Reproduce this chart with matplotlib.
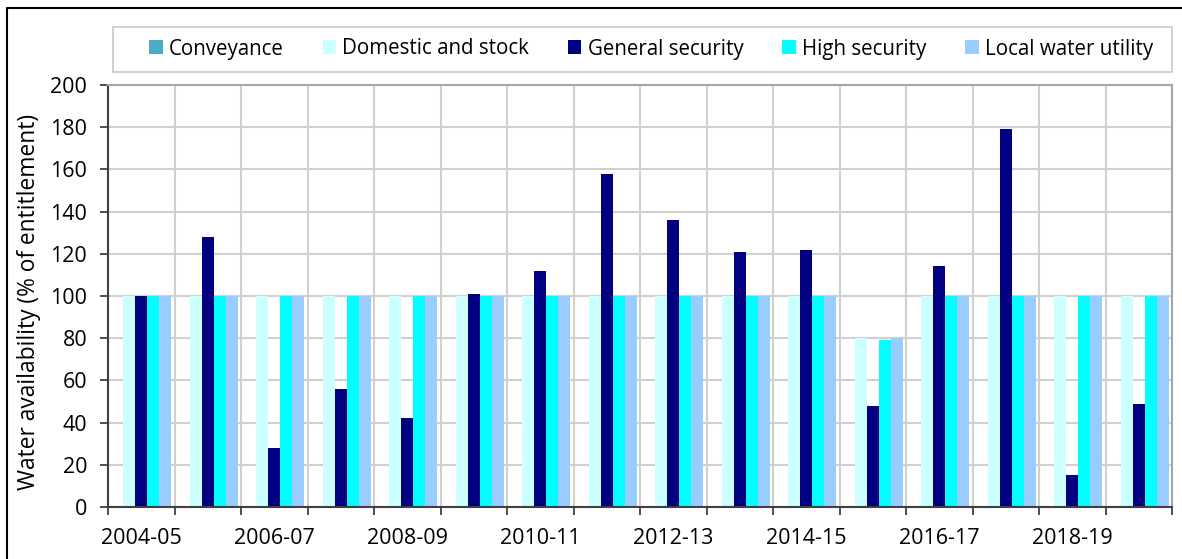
import matplotlib
matplotlib.use("Agg")
import matplotlib.pyplot as plt
import numpy as np
from matplotlib.lines import Line2D
from matplotlib.patches import Patch, Rectangle

plt.rcParams['font.family'] = ['Open Sans', 'DejaVu Sans']

years = ["2004-05", "2005-06", "2006-07", "2007-08", "2008-09", "2009-10", "2010-11", "2011-12",
         "2012-13", "2013-14", "2014-15", "2015-16", "2016-17", "2017-18", "2018-19", "2019-20"]
series_names = ["Conveyance", "Domestic and stock", "General security", "High security", "Local water utility"]
conveyance = [0, 0, 0, 0, 0, 0, 0, 0, 0, 0, 0, 0, 0, 0, 0, 0]
domestic = [100, 100, 100, 100, 100, 100, 100, 100, 100, 100, 100, 80, 100, 100, 100, 100]
general = [100, 128, 28, 56, 42, 101, 112, 158, 136, 121, 122, 48, 114, 179, 15, 49]
high = [100, 100, 100, 100, 100, 100, 100, 100, 100, 100, 100, 79, 100, 100, 100, 100]
local = [100, 100, 100, 100, 100, 100, 100, 100, 100, 100, 100, 80, 100, 100, 100, 100]
colors = ["#4BACC6", "#CCFFFF", "#000080", "#00FFFF", "#99CCFF"]

W, H = 1182, 559
fig = plt.figure(figsize=(W / 100, H / 100), dpi=100)
ax = fig.add_axes([108 / W, 1 - 507 / H, (1172 - 108) / W, (507 - 85) / H])

x = np.arange(len(years))
bw = 0.18
data = [conveyance, domestic, general, high, local]
for k, (vals, c) in enumerate(zip(data, colors)):
    v = np.array(vals, dtype=float)
    m = v > 0
    if m.any():
        ax.bar(x[m] + (k - 2) * bw, v[m], width=bw, color=c, linewidth=0, zorder=2)

ax.set_xlim(-0.5, len(years) - 0.5)
ax.set_ylim(0, 200)
ax.set_yticks(np.arange(0, 201, 20))
ax.set_xticks(x[::2])
ax.set_xticklabels(years[::2])
ax.set_xticks(np.arange(-0.5, len(years), 1.0), minor=True)

ax.grid(True, which='major', axis='y', color='#d0d0d0', linewidth=1.5, zorder=0)
ax.grid(True, which='minor', axis='x', color='#d0d0d0', linewidth=1.5, zorder=0)
ax.set_axisbelow(True)
ax.tick_params(axis='x', which='major', length=0, pad=15, labelsize=15.5, colors='#000000')
ax.tick_params(axis='x', which='minor', length=6, width=1.3, color='#404040')
ax.tick_params(axis='y', which='major', length=6, width=1.3, color='#404040', pad=9, labelsize=15.5)
for s in ['left', 'bottom']:
    ax.spines[s].set_color('#404040')
    ax.spines[s].set_linewidth(1.5)
for s in ['top', 'right']:
    ax.spines[s].set_color('#a6a6a6')
    ax.spines[s].set_linewidth(1.5)

ax.set_ylabel("Water availability (% of entitlement)", fontsize=16.4)
ax.yaxis.set_label_coords(41 / W, 1 - 302 / H, transform=fig.transFigure)

fig.add_artist(Rectangle((113 / W, 1 - 72 / H), (1172 - 113) / W, 45 / H,
                         transform=fig.transFigure, facecolor='white',
                         edgecolor='#c8c8c8', linewidth=1.2))
handles = [Patch(facecolor=c, edgecolor='none') for c in colors]
leg = fig.legend(handles, series_names, loc='center', ncol=5,
                 bbox_to_anchor=(651 / W, 1 - 49 / H),
                 bbox_transform=fig.transFigure, frameon=False,
                 fontsize=14.8, handlelength=0.65, handleheight=0.65,
                 handletextpad=0.3, columnspacing=1.9, borderaxespad=0, borderpad=0)

fig.add_artist(Line2D([7 / W, 7 / W, 1.0], [0.0, 1 - 8 / H, 1 - 8 / H],
                      transform=fig.transFigure, color='black', linewidth=1.5))

fig.savefig("out.png", dpi=100)
